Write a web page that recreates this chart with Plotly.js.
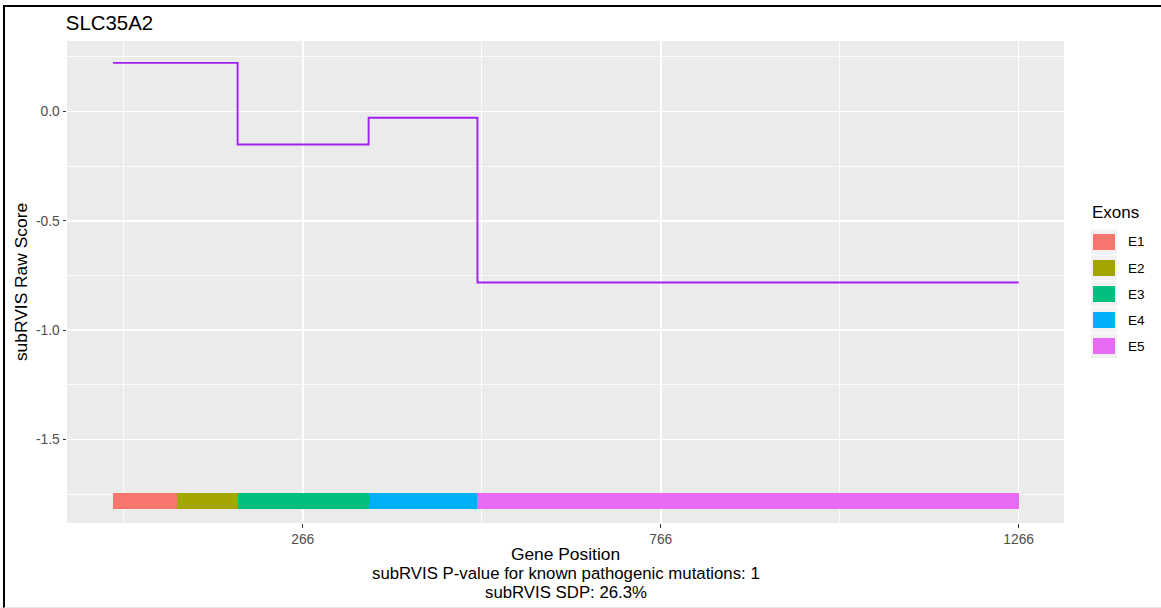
<!DOCTYPE html>
<html>
<head>
<meta charset="utf-8">
<script src="https://cdn.plot.ly/plotly-3.0.1.min.js"></script>
<style>
  html, body { margin: 0; padding: 0; background: #fff; }
  #wrap { position: relative; width: 1161px; height: 608px; overflow: hidden; }
  #chart { position: absolute; left: 0; top: 0; width: 1161px; height: 608px; }
  #frame {
    position: absolute; left: 3px; top: 5px; right: -4px; bottom: 0px;
    border-top: 2px solid #000; border-left: 2px solid #000; border-bottom: 1px solid #e6e6e6;
    pointer-events: none;
  }
</style>
</head>
<body>
<div id="wrap">
  <div id="chart"></div>
  <div id="frame"></div>
</div>
<script>
// Gene and exon layout
const geneName = 'SLC35A2';
const exonNames = ['E1', 'E2', 'E3', 'E4', 'E5'];
const exonStart = [1, 91, 175, 358, 510];
const exonEnd = [91, 175, 358, 510, 1266];
const exonColors = ['#F8766D', '#A3A500', '#00BF7D', '#00B0F6', '#E76BF3'];

// subRVIS raw score per region (step function)
const stepPos = [1, 175, 358, 510, 1266];
const stepScore = [0.222, -0.151, -0.029, -0.782, -0.782];

// Axis ticks
const xTickVals = [266, 766, 1266];
const xTickText = ['266', '766', '1266'];
const yTickVals = [0, -0.5, -1.0, -1.5];
const yTickText = ['0.0', '-0.5', '-1.0', '-1.5'];

const pValue = 1;
const sdp = '26.3%';

// exon track drawn as a thick band at the lowest plotted level
const exonTrackY = -1.782;

const FONT = 'Liberation Sans, Arial, Helvetica, sans-serif';

const scoreTrace = {
  type: 'scatter', mode: 'lines',
  x: stepPos, y: stepScore,
  line: { shape: 'hv', color: '#A020F0', width: 1.9 },
  hoverinfo: 'x+y', showlegend: false
};

const exonTrace = {
  type: 'bar', orientation: 'h',
  y: exonNames.map(() => exonTrackY),
  base: exonStart,
  x: exonStart.map((s, i) => exonEnd[i] - s),
  width: 0.073,
  marker: { color: exonColors, line: { width: 0 } },
  text: exonNames, hoverinfo: 'text', textposition: 'none',
  showlegend: false
};

// panel geometry in pixels, used to place the legend and captions in paper units
const W = 1161, H = 608;
const M = { l: 67, r: 97, t: 41, b: 85 };
const pw = W - M.l - M.r, ph = H - M.t - M.b;
const px = x => (x - M.l) / pw;
const py = y => (H - M.b - y) / ph;

const shapes = [];
const annotations = [];
annotations.push({
  xref: 'paper', yref: 'paper', x: px(1090), y: py(213),
  xanchor: 'left', yanchor: 'middle', showarrow: false,
  text: 'Exons', font: { family: FONT, size: 17, color: '#000' }
});
exonNames.forEach((name, i) => {
  const cy = 242 + i * 26;
  shapes.push({
    type: 'rect', xref: 'paper', yref: 'paper', layer: 'above',
    x0: px(1091), x1: px(1117), y0: py(cy - 12.5), y1: py(cy + 12.5),
    fillcolor: '#F2F2F2', line: { width: 0 }
  });
  shapes.push({
    type: 'rect', xref: 'paper', yref: 'paper', layer: 'above',
    x0: px(1093), x1: px(1115), y0: py(cy - 8), y1: py(cy + 8),
    fillcolor: exonColors[i], line: { width: 0 }
  });
  annotations.push({
    xref: 'paper', yref: 'paper', x: px(1126), y: py(cy),
    xanchor: 'left', yanchor: 'middle', showarrow: false,
    text: name, font: { family: FONT, size: 13.6, color: '#000' }
  });
});

// caption lines under the x-axis title
const captions = [
  'subRVIS P-value for known pathogenic mutations: ' + pValue,
  'subRVIS SDP: ' + sdp
];
captions.forEach((t, i) => {
  annotations.push({
    xref: 'paper', yref: 'paper', x: 0.5, y: py(573 + i * 19),
    xanchor: 'center', yanchor: 'middle', showarrow: false,
    text: t, font: { family: FONT, size: 16.8, color: '#000' }
  });
});

const layout = {
  width: W, height: H,
  margin: M,
  paper_bgcolor: 'rgba(0,0,0,0)',
  plot_bgcolor: '#EBEBEB',
  font: { family: FONT, color: '#000' },
  title: {
    text: geneName, x: M.l / W - 0.001, xanchor: 'left', xref: 'container',
    y: 1 - 23 / H, yanchor: 'middle', yref: 'container',
    font: { family: FONT, size: 20.4, color: '#000' }
  },
  xaxis: {
    range: [-63.3, 1329.3],
    tickmode: 'array', tickvals: xTickVals, ticktext: xTickText,
    ticks: 'outside', ticklen: 3.5, tickwidth: 1.1, tickcolor: '#333',
    tickfont: { family: FONT, size: 13.8, color: '#4D4D4D' },
    showgrid: true, gridcolor: '#FFFFFF', gridwidth: 1.6,
    minor: { tickmode: 'array', tickvals: [16, 516, 1016], showgrid: true, gridcolor: '#FFFFFF', gridwidth: 0.8, ticks: '' },
    zeroline: false, showline: false,
    title: {
      text: 'Gene Position',
      font: { family: FONT, size: 17.4, color: '#000' }, standoff: 1
    }
  },
  yaxis: {
    range: [-1.882, 0.322],
    tickmode: 'array', tickvals: yTickVals, ticktext: yTickText,
    ticks: 'outside', ticklen: 3.5, tickwidth: 1.1, tickcolor: '#333',
    tickfont: { family: FONT, size: 13.8, color: '#4D4D4D' },
    showgrid: true, gridcolor: '#FFFFFF', gridwidth: 1.6,
    minor: { tickmode: 'array', tickvals: [0.25, -0.25, -0.75, -1.25, -1.75], showgrid: true, gridcolor: '#FFFFFF', gridwidth: 0.8, ticks: '' },
    zeroline: false, showline: false,
    title: { text: 'subRVIS Raw Score', font: { family: FONT, size: 17.4, color: '#000' }, standoff: 3 }
  },
  bargap: 0,
  shapes: shapes,
  annotations: annotations,
  showlegend: false
};

Plotly.newPlot('chart', [exonTrace, scoreTrace], layout, { displayModeBar: false, staticPlot: true });
</script>
</body>
</html>
